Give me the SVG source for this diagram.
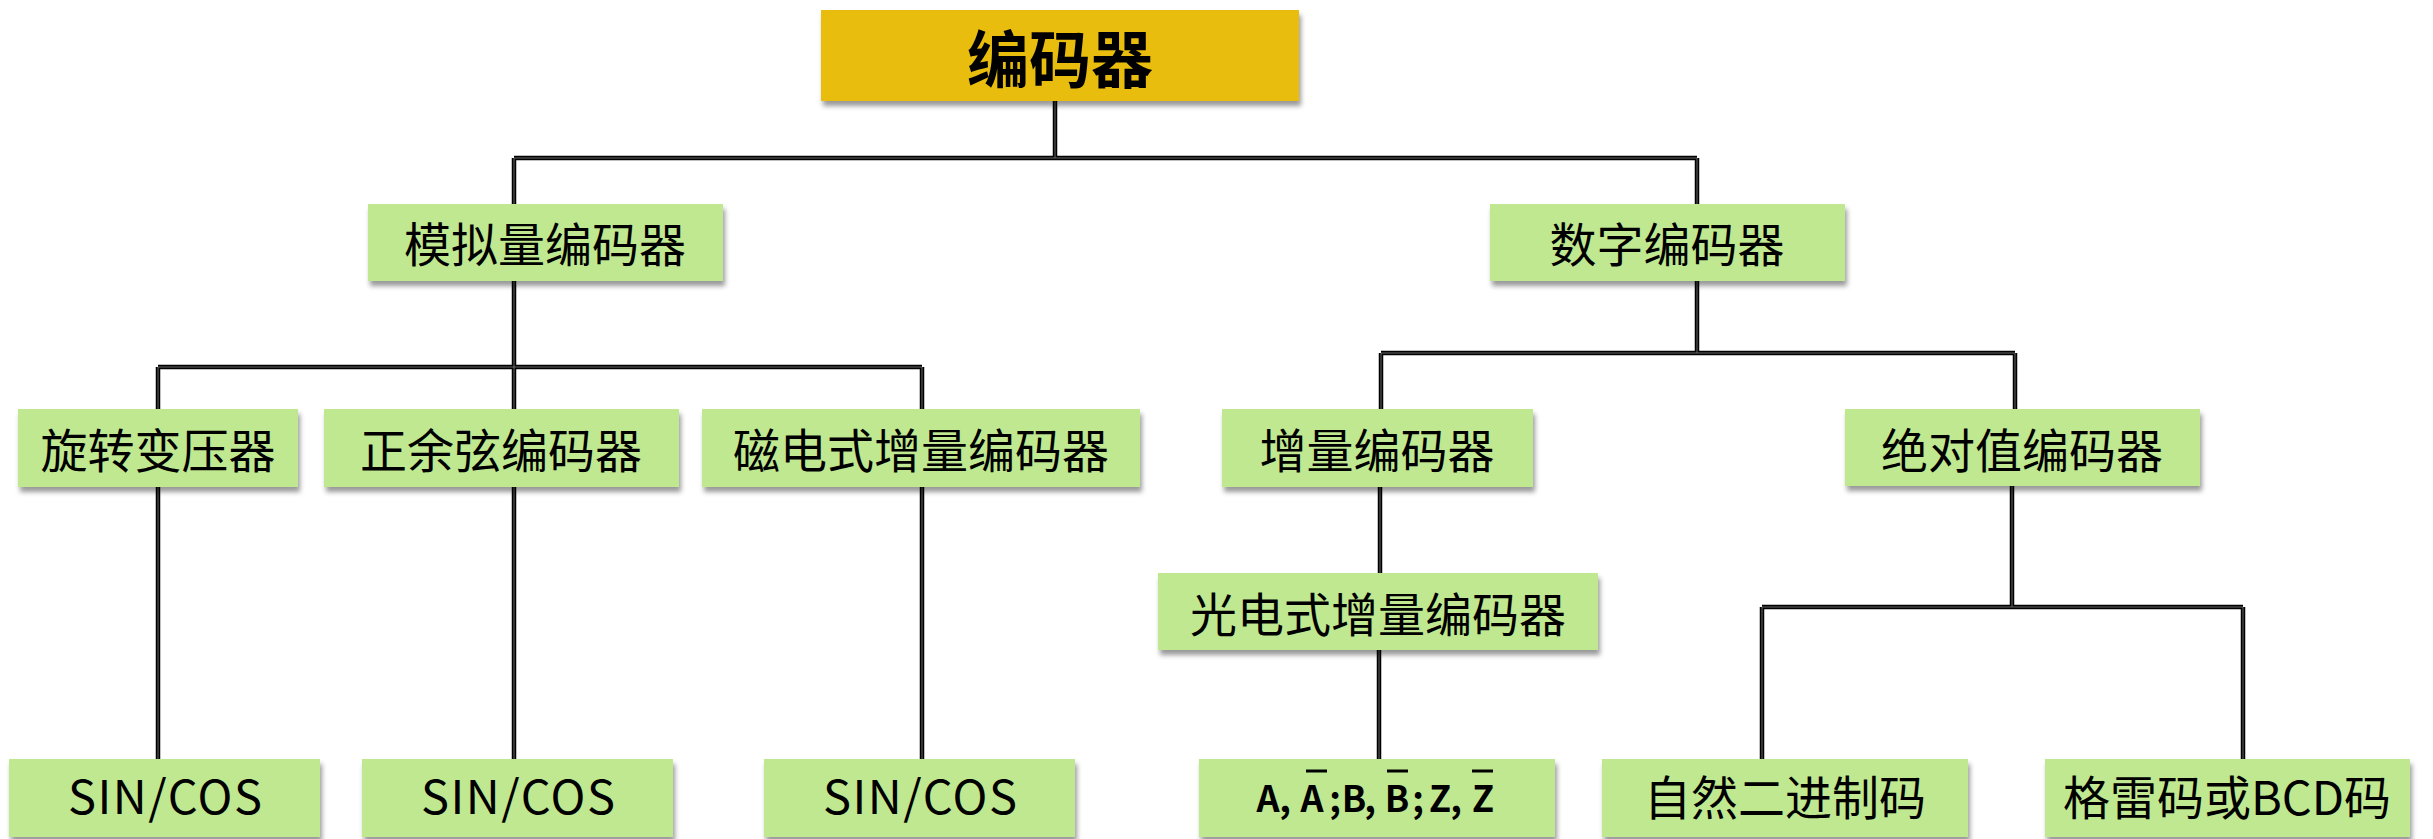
<svg xmlns="http://www.w3.org/2000/svg" width="2433" height="839" viewBox="0 0 2433 839">
<style>
.box{fill:#BFE891;filter:url(#sh)}
.top{fill:#E8BD0A;filter:url(#sh)}
.t{font-family:"Noto Sans CJK SC","Noto Sans",sans-serif;font-size:47px;fill:#000;text-anchor:middle;dominant-baseline:central}
.tt{font-family:"Noto Sans CJK SC","Noto Sans",sans-serif;font-size:62px;font-weight:bold;fill:#000;text-anchor:middle;dominant-baseline:central}
.ab{font-family:"Noto Sans CJK SC","Noto Sans",sans-serif;font-size:36px;font-weight:600;fill:#000;text-anchor:middle}
.c{fill:none;stroke:#000;stroke-width:4.5}
.ci{fill:none;stroke:#808080;stroke-width:0.8}
.bar{stroke:#000;stroke-width:3}
</style>
<defs>
<filter id="sh" x="-5%" y="-10%" width="110%" height="130%">
<feDropShadow dx="2" dy="5" stdDeviation="2.5" flood-color="#000" flood-opacity="0.4"/>
</filter>
</defs>
<rect width="2433" height="839" fill="#fff"/>
<g id="connectors">
<path id="conn-path" class="c" d="M1055,101V158 M514,158H1697 M514,158V204 M1697,158V204 M514,281V367 M158,367H922 M158,367V409 M514,367V409 M922,367V409 M158,487V759 M514,487V759 M922,487V759 M1697,281V353 M1381,353H2015 M1381,353V409 M2015,353V409 M1380,487V573 M1379,650V760 M2012,486V607 M1762,607H2243 M1762,607V760 M2243,607V760"/>
<path class="ci" d="M1055,101V158 M514,158H1697 M514,158V204 M1697,158V204 M514,281V367 M158,367H922 M158,367V409 M514,367V409 M922,367V409 M158,487V759 M514,487V759 M922,487V759 M1697,281V353 M1381,353H2015 M1381,353V409 M2015,353V409 M1380,487V573 M1379,650V760 M2012,486V607 M1762,607H2243 M1762,607V760 M2243,607V760"/>
</g>
<g id="n-root"><rect class="top" x="821" y="10" width="478" height="91"/><text class="tt" x="1060" y="56">编码器</text></g>
<g id="n-analog"><rect class="box" x="368" y="204" width="355" height="77"/><text class="t" x="545" y="241">模拟量编码器</text></g>
<g id="n-digital"><rect class="box" x="1490" y="204" width="355" height="77"/><text class="t" x="1667" y="241">数字编码器</text></g>
<g id="n-resolver"><rect class="box" x="18" y="409" width="280" height="78"/><text class="t" x="158" y="447">旋转变压器</text></g>
<g id="n-sincos"><rect class="box" x="324" y="409" width="355" height="78"/><text class="t" x="501" y="447">正余弦编码器</text></g>
<g id="n-magnetic"><rect class="box" x="702" y="409" width="438" height="78"/><text class="t" x="921" y="447">磁电式增量编码器</text></g>
<g id="n-incremental"><rect class="box" x="1222" y="409" width="311" height="78"/><text class="t" x="1377" y="447">增量编码器</text></g>
<g id="n-absolute"><rect class="box" x="1845" y="409" width="355" height="77"/><text class="t" x="2022" y="447">绝对值编码器</text></g>
<g id="n-optical"><rect class="box" x="1158" y="573" width="440" height="77"/><text class="t" x="1378" y="611">光电式增量编码器</text></g>
<g id="n-sc1"><rect class="box" x="9" y="759" width="311" height="78"/><text class="t" x="165" y="793" textLength="194" lengthAdjust="spacing">SIN/COS</text></g>
<g id="n-sc2"><rect class="box" x="362" y="759" width="311" height="78"/><text class="t" x="518" y="793" textLength="194" lengthAdjust="spacing">SIN/COS</text></g>
<g id="n-sc3"><rect class="box" x="764" y="759" width="311" height="78"/><text class="t" x="920" y="793" textLength="194" lengthAdjust="spacing">SIN/COS</text></g>
<g id="n-abz"><rect class="box" x="1199" y="759" width="356" height="78"/>
<text class="ab" x="1268 1285 1312 1335 1354 1370 1397 1418 1440 1456 1483" y="812">A,A;B,B;Z,Z</text>
<line class="bar" x1="1306" y1="771" x2="1327" y2="771"/><line class="bar" x1="1387" y1="771" x2="1408" y2="771"/><line class="bar" x1="1472" y1="771" x2="1493" y2="771"/>
</g>
<g id="n-binary"><rect class="box" x="1602" y="759" width="366" height="78"/><text class="t" x="1785" y="794">自然二进制码</text></g>
<g id="n-gray"><rect class="box" x="2045" y="759" width="365" height="78"/><text class="t" x="2227" y="794">格雷码或BCD码</text></g>
</svg>
